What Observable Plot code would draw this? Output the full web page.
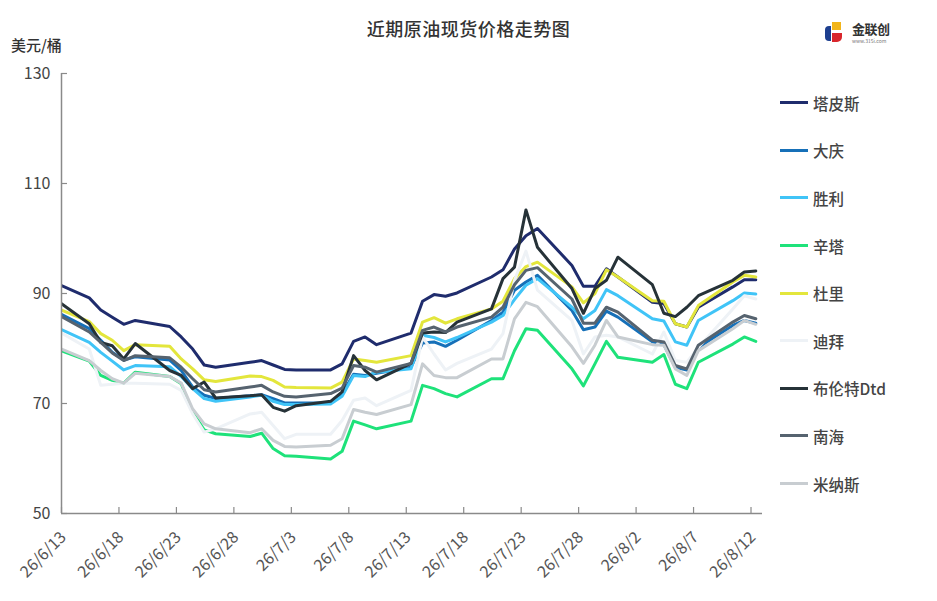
<!DOCTYPE html>
<html><head><meta charset="utf-8">
<script src="https://cdn.jsdelivr.net/npm/d3@7"></script>
<script src="https://cdn.jsdelivr.net/npm/@observablehq/plot@0.6"></script>
<style>
body{margin:0;background:#fff;font-family:"Noto Sans CJK SC","Noto Sans",sans-serif;}
#wrap{position:relative;width:937px;height:601px;overflow:hidden;}
#chart{position:absolute;left:0;top:0;}
.title{position:absolute;left:0;width:937px;top:15px;text-align:center;font-size:18px;color:#333;font-weight:500;letter-spacing:0.5px;}
.unit{position:absolute;left:11px;top:34px;font-size:15px;color:#333;font-weight:500;}
.legend{position:absolute;left:780px;top:79px;display:flex;flex-direction:column;}
.item{height:47.6px;display:flex;align-items:center;font-size:15.5px;color:#444;font-weight:500;}
.sw{width:28px;height:3px;margin-right:5px;}
.logo{position:absolute;left:824px;top:21px;display:flex;align-items:flex-start;}
.logo .ic{position:relative;width:22px;height:22px;}
.logo .ic span{position:absolute;display:block;}
.logo .tx{margin-left:6px;line-height:1;}
.logo .tx b{display:block;font-size:13px;line-height:15px;color:#333;letter-spacing:-0.5px;}
.logo .tx i{display:block;font-size:5px;line-height:6px;margin-top:2px;color:#777;font-style:normal;}
</style>
</head><body>
<div id="wrap">
  <div id="chart"></div>
  <div class="title">近期原油现货价格走势图</div>
  <div class="unit">美元/桶</div>
  <div class="logo"><div class="ic"><span style="left:1px;top:5px;width:6px;height:15px;background:#1d3f8f;border-radius:4px 0 0 4px"></span><span style="left:8px;top:1px;width:9px;height:8px;background:#f2b51b"></span><span style="left:8px;top:12px;width:10px;height:9px;background:#d9262c;border-radius:0 0 5px 0"></span></div><div class="tx"><b>金联创</b><i>www.315i.com</i></div></div>
  <div class="legend" id="legend"></div>
</div>
<script>
const seriesNames = ["塔皮斯","大庆","胜利","辛塔","杜里","迪拜","布伦特Dtd","南海","米纳斯"];
const seriesColors = ["#1f2c6d","#1670b8","#40c4f7","#1ee27a","#e3e63c","#eef2f6","#263238","#56636f","#c8cdd1"];
const dates = ["2026-06-12","2026-06-15","2026-06-16","2026-06-17","2026-06-18","2026-06-19","2026-06-22","2026-06-23","2026-06-24","2026-06-25","2026-06-26","2026-06-29","2026-06-30","2026-07-01","2026-07-02","2026-07-03","2026-07-06","2026-07-07","2026-07-08","2026-07-09","2026-07-10","2026-07-13","2026-07-14","2026-07-15","2026-07-16","2026-07-17","2026-07-20","2026-07-21","2026-07-22","2026-07-23","2026-07-24","2026-07-27","2026-07-28","2026-07-29","2026-07-30","2026-07-31","2026-08-03","2026-08-04","2026-08-05","2026-08-06","2026-08-07","2026-08-10","2026-08-11","2026-08-12"];
const tapis   = [92.0,89.2,87.0,85.7,84.4,85.1,84.0,82.1,79.9,77.0,76.6,77.5,77.8,77.0,76.2,76.1,76.1,77.2,81.3,82.1,80.7,82.8,88.6,89.8,89.5,90.1,93.0,94.3,98.1,100.5,101.8,95.1,91.3,91.3,94.5,93.0,88.4,88.2,84.5,83.9,87.5,91.2,92.5,92.5];
const daqing  = [86.8,83.6,81.5,79.3,77.9,78.5,77.9,76.0,73.0,71.5,70.9,71.4,71.6,70.9,70.1,70.1,70.1,71.8,75.3,75.1,75.5,76.6,81.0,81.2,80.4,81.5,85.1,86.6,90.6,92.1,93.3,86.9,83.4,83.9,86.8,85.7,81.2,80.7,76.6,76.1,80.2,84.2,85.1,84.6];
const shengli = [84.0,81.1,79.3,77.7,76.1,76.9,76.7,74.9,72.7,70.9,70.4,71.2,71.5,70.4,69.8,69.8,69.9,71.3,75.1,74.9,75.7,76.3,82.4,82.0,81.2,82.0,84.8,86.0,88.9,91.5,92.7,87.5,85.4,86.9,90.7,89.6,85.4,85.0,81.2,80.6,85.1,88.7,90.1,89.9];
const cinta   = [80.0,77.7,75.1,74.2,73.7,75.7,74.9,73.6,68.4,65.2,64.5,64.0,64.6,61.8,60.5,60.4,59.9,61.3,66.8,66.1,65.4,66.8,73.3,72.7,71.8,71.2,74.5,74.5,79.6,83.6,83.3,76.3,73.2,77.2,81.3,78.4,77.5,78.9,73.5,72.7,77.5,80.8,82.1,81.3];
const duri    = [87.5,84.9,82.7,81.5,79.6,80.7,80.4,78.1,76.3,74.3,74.0,75.0,74.9,74.2,73.0,72.9,72.8,73.9,78.1,77.8,77.5,78.7,84.8,85.6,84.6,85.4,87.2,88.6,92.7,94.9,95.7,91.2,88.3,90.0,94.3,93.0,88.7,88.6,84.5,83.9,87.8,92.1,93.3,93.0];
const dubai   = [83.5,79.9,73.3,73.5,73.7,73.7,73.5,72.4,68.1,64.8,65.4,68.1,68.4,66.0,63.6,64.4,64.4,66.9,70.6,71.0,69.6,72.4,82.1,79.0,76.1,77.3,79.9,82.7,92.4,97.7,90.6,85.1,79.0,82.1,82.4,82.1,79.0,83.0,77.8,77.5,80.2,87.2,89.6,89.0];
const brent   = [89.0,84.5,81.1,80.5,78.1,80.9,76.0,75.1,72.7,73.9,71.0,71.4,71.6,69.3,68.6,69.6,70.4,72.1,78.7,76.0,74.3,77.3,82.8,83.0,82.9,84.8,87.2,92.7,94.8,105.2,98.4,90.9,86.4,90.9,92.4,96.6,91.6,86.4,85.8,87.5,89.6,92.4,93.9,94.1];
const nanhai  = [86.5,83.0,81.1,79.2,77.8,78.7,78.3,76.6,74.5,72.5,72.1,73.0,73.3,72.1,71.3,71.2,71.8,72.8,76.9,76.6,75.7,77.3,83.3,83.9,83.0,83.9,85.7,87.5,91.6,94.2,94.7,89.0,84.6,84.6,87.5,86.6,81.5,81.2,76.9,76.3,80.6,84.8,86.0,85.4];
const minas   = [80.4,77.8,76.0,74.5,73.7,75.5,74.9,73.7,69.0,66.3,65.4,64.7,65.4,63.3,62.2,62.1,62.4,63.6,68.9,68.4,68.0,69.8,77.2,75.1,74.7,74.7,78.1,78.1,85.4,88.4,87.6,80.3,77.3,80.6,85.1,82.1,80.7,80.6,76.3,75.1,79.6,83.6,85.1,84.4];
const seriesValues = [tapis,daqing,shengli,cinta,duri,dubai,brent,nanhai,minas];
const yTicks = [50,70,90,110,130];
const xTickDates = ["2026-06-13","2026-06-18","2026-06-23","2026-06-28","2026-07-03","2026-07-08","2026-07-13","2026-07-18","2026-07-23","2026-07-28","2026-08-02","2026-08-07","2026-08-12"];
const xDomainDates = ["2026-06-13","2026-08-13"];
const sampleHour = 10; // daily quotes are stamped mid-morning

const parse = d3.utcParse("%Y-%m-%d");
const stamp = s => d3.utcHour.offset(parse(s), sampleHour);
const rows = seriesNames.flatMap((name, i) => seriesValues[i].map((v, j) => ({name, date: stamp(dates[j]), value: v})));
const xDomain = xDomainDates.map(parse);
const xt = xTickDates.map(parse);
const fmt = d => `${d.getUTCFullYear() % 100}/${d.getUTCMonth() + 1}/${d.getUTCDate()}`;
const axisColor = "#8a8a8a";

const chart = Plot.plot({
  width: 937, height: 601,
  marginLeft: 61, marginRight: 175, marginTop: 73, marginBottom: 88,
  style: {fontFamily: '"Noto Sans CJK SC","Noto Sans",sans-serif', background: "transparent", overflow: "visible"},
  x: {type: "utc", domain: xDomain},
  y: {domain: [50, 130]},
  color: {domain: seriesNames, range: seriesColors},
  marks: [
    Plot.line(rows, {x: "date", y: "value", z: "name", stroke: "name", strokeWidth: 3, clip: true}),
    Plot.ruleX([xDomain[0]], {stroke: axisColor, strokeWidth: 1.5}),
    Plot.ruleY([50], {stroke: axisColor, strokeWidth: 1.5}),
    Plot.tickY(yTicks, {y: d => d, insetRight: 695, stroke: axisColor, strokeWidth: 1.2}),
    Plot.tickX(xt, {x: d => d, insetTop: 434, stroke: axisColor, strokeWidth: 1.2}),
    Plot.axisY({ticks: yTicks, tickSize: 0, tickPadding: 11, fontSize: 16, fill: "#444", label: null}),
    Plot.axisX({ticks: xt, tickSize: 0, tickPadding: 21, dx: 2, tickRotate: -45, tickFormat: fmt, fontSize: 16, fill: "#555", label: null})
  ]
});
document.getElementById("chart").append(chart);

const legend = document.getElementById("legend");
seriesNames.forEach((n, i) => {
  const it = document.createElement("div");
  it.className = "item";
  it.innerHTML = `<span class="sw" style="background:${seriesColors[i]}"></span><span>${n}</span>`;
  legend.append(it);
});
</script>
</body></html>
